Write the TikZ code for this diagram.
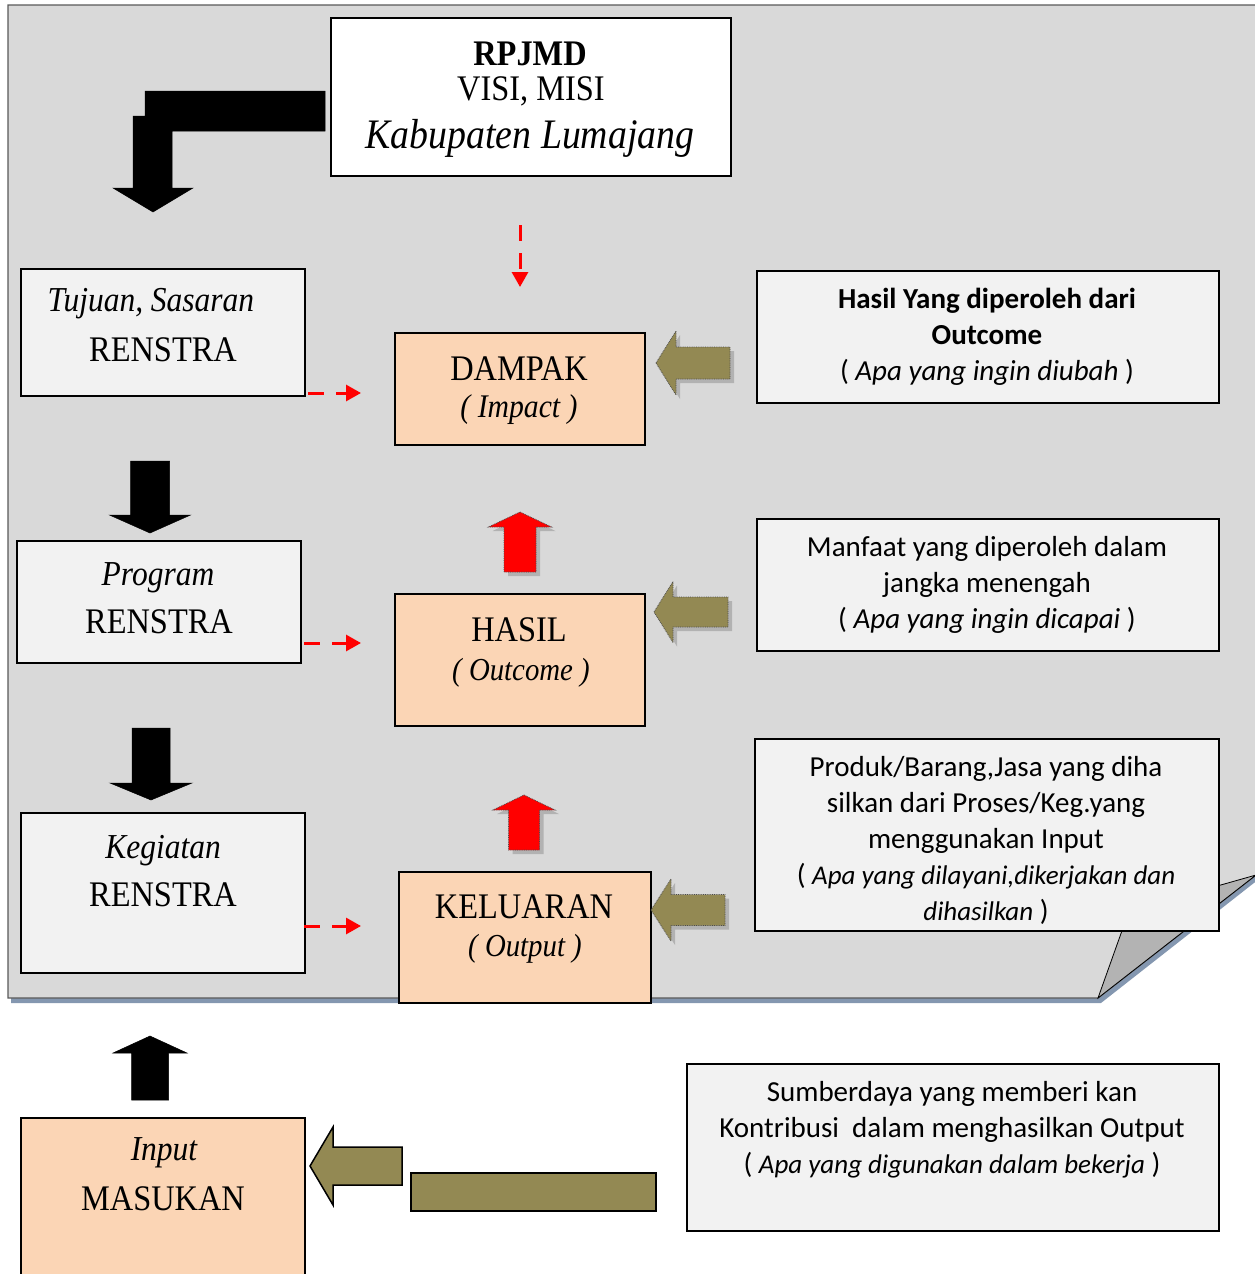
\documentclass[tikz,border=0pt]{standalone}
\usepackage{fontspec}
\setmainfont{Liberation Serif}
\newfontfamily\camfont{Liberation Serif}[FakeStretch=0.9]
\newfontfamily\calfont{Carlito}
\usetikzlibrary{arrows.meta}
\definecolor{sheet}{HTML}{D9D9D9}
\definecolor{boxgray}{HTML}{F2F2F2}
\definecolor{peach}{HTML}{FBD5B5}
\definecolor{olive}{HTML}{938953}
\definecolor{foldgray}{HTML}{B3B3B3}
\definecolor{shadowblue}{HTML}{8497B0}
% left-pointing block arrow: style, tipx, cy, headx, headhalf, shafthalf, rightx
\newcommand{\blkarrL}[7]{\path[#1] (#2,#3) -- (#4,{#3-#5}) -- (#4,{#3-#6}) -- (#7,{#3-#6}) -- (#7,{#3+#6}) -- (#4,{#3+#6}) -- (#4,{#3+#5}) -- cycle;}
% vertical block arrow: style, cx, tipy, basey, headhalf, shafthalf, endy
\newcommand{\blkarrV}[7]{\path[#1] (#2,#3) -- ({#2+#5},#4) -- ({#2+#6},#4) -- ({#2+#6},#7) -- ({#2-#6},#7) -- ({#2-#6},#4) -- ({#2-#5},#4) -- cycle;}
\tikzset{
  graybox/.style={draw=black, line width=1.6pt, fill=boxgray, inner sep=0pt, anchor=north west},
  peachbox/.style={draw=black, line width=1.6pt, fill=peach, inner sep=0pt, anchor=north west},
  big/.style={font=\camfont\fontsize{36}{40}\selectfont, anchor=base, inner sep=0pt},
  scr/.style={font=\camfont\itshape\fontsize{35}{38}\selectfont, anchor=base, inner sep=0pt},
  sub/.style={font=\camfont\itshape\fontsize{32}{34}\selectfont, anchor=base, inner sep=0pt},
  info/.style={font=\calfont\fontsize{29}{36}\selectfont, align=center, inner sep=0pt},
  reddash/.style={draw=red, line width=3pt, dash pattern=on 16pt off 12pt, -{Triangle[length=15pt,width=16pt]}},
  olivearrow/.style={fill=olive, draw=black!70, line width=0.8pt, densely dotted},
  redarrow/.style={fill=red, draw=black!70, line width=0.8pt, densely dotted},
  arrshadow/.style={fill=black!30, shift={(4,4)}},
  blackarrow/.style={fill=black, draw=black, line width=0.5pt}
}
\newcommand{\smit}[1]{{\itshape\fontsize{27}{36}\selectfont #1}}
\begin{document}
\begin{tikzpicture}[x=1pt,y=-1pt]
\useasboundingbox (0,0) rectangle (1255,1274);
% sheet with folded corner
\fill[shadowblue] (11,9) -- (1259,9) -- (1259,879) -- (1101,1003) -- (11,1003) -- cycle;
\filldraw[fill=sheet, draw=black!65, line width=1.3pt] (8,5) -- (1256,5) -- (1256,875) -- (1098,998) -- (8,998) -- cycle;
\filldraw[fill=foldgray, draw=black, line width=0.8pt] (1098,998) -- (1129,911) -- (1256,875) -- cycle;

% top box
\node[draw=black, line width=1.6pt, fill=white, inner sep=0pt, anchor=north west, minimum width=400pt, minimum height=158pt] (rpj) at (330,17) {};
\node[font=\camfont\bfseries\fontsize{36}{40}\selectfont, anchor=base, inner sep=0pt] (rpjt) at (530,65) {RPJMD};
\node[big, font=\camfont\fontsize{36}{38}\selectfont] (visi) at (531,100) {VISI, MISI};
\node[scr, font=\camfont\itshape\fontsize{42}{44}\selectfont] (kab) at (530,148) {Kabupaten Lumajang};

% L-shaped black arrow
\path[blackarrow] (145,91) -- (325,91) -- (325,131) -- (172,131) -- (172,188) -- (193,188) -- (153,212) -- (113,188) -- (133,188) -- (133,116) -- (145,116) -- cycle;

% left column
\node[graybox, minimum width=284pt, minimum height=127pt] (tuj) at (20,268) {};
\node[scr] (tujs) at (151,311) {Tujuan, Sasaran};
\node[big] (tujr) at (163,361) {RENSTRA};

\blkarrV{blackarrow}{150}{533}{515}{40.5}{19.5}{461}

\node[graybox, minimum width=284pt, minimum height=122pt] (prog) at (16,540) {};
\node[scr] (progs) at (158,585) {Program};
\node[big] (progr) at (159,633) {RENSTRA};

\blkarrV{blackarrow}{151}{800}{783}{41}{19}{728}

\node[graybox, minimum width=284pt, minimum height=160pt] (keg) at (20,812) {};
\node[scr] (kegs) at (163,858) {Kegiatan};
\node[big] (kegr) at (163,906) {RENSTRA};

\blkarrV{blackarrow}{150}{1036}{1053}{37}{18.5}{1100}

\node[peachbox, minimum width=284pt, minimum height=175pt] (mas) at (20,1117) {};
\node[scr] (mass) at (164,1160) {Input};
\node[big] (masr) at (163,1210) {MASUKAN};

% middle column
\node[peachbox, minimum width=250pt, minimum height=112pt] (dam) at (394,332) {};
\node[big] (damt) at (519,380) {DAMPAK};
\node[sub, font=\camfont\itshape\fontsize{33}{34}\selectfont] (dami) at (519,417) {( Impact )};

\node[peachbox, minimum width=250pt, minimum height=132pt] (has) at (394,593) {};
\node[big] (hast) at (519,641) {HASIL};
\node[sub] (haso) at (521,680) {( Outcome )};

\node[peachbox, minimum width=252pt, minimum height=131pt] (kel) at (398,871) {};
\node[big] (kelt) at (524,918) {KELUARAN};
\node[sub] (kelo) at (525,956) {( Output )};

% red up arrows
\blkarrV{arrshadow}{520}{512}{527}{31.5}{16}{572}
\blkarrV{redarrow}{520}{512}{527}{31.5}{16}{572}
\blkarrV{arrshadow}{524}{795}{810}{31}{15.5}{850}
\blkarrV{redarrow}{524}{795}{810}{31}{15.5}{850}

% red dashed arrows
\coordinate (d0s) at (520,225);
\coordinate (d0e) at (520,287);
\draw[reddash] (d0s) -- (d0e);
\coordinate (d1s) at (308,393);
\coordinate (d1e) at (361,393);
\draw[reddash] (d1s) -- (d1e);
\coordinate (d2s) at (304,643);
\coordinate (d2e) at (361,643);
\draw[reddash] (d2s) -- (d2e);
\coordinate (d3s) at (304,926);
\coordinate (d3e) at (361,926);
\draw[reddash] (d3s) -- (d3e);

% olive arrows
\blkarrL{arrshadow}{656}{363}{676}{32}{16}{730}
\blkarrL{olivearrow}{656}{363}{676}{32}{16}{730}
\blkarrL{arrshadow}{654}{612}{673}{30.5}{15}{728}
\blkarrL{olivearrow}{654}{612}{673}{30.5}{15}{728}
\blkarrL{arrshadow}{651}{910}{671}{31}{15.5}{725}
\blkarrL{olivearrow}{651}{910}{671}{31}{15.5}{725}
\blkarrL{fill=olive, draw=black, line width=1.5pt}{310}{1166}{333}{39}{19}{402}
\node[draw=black, line width=1.5pt, fill=olive, inner sep=0pt, anchor=north west, minimum width=245pt, minimum height=38pt] (bar) at (410,1172) {};

% right column
\node[graybox, minimum width=462pt, minimum height=132pt] (r1) at (756,270) {};
\node[info] (r1t) at (987,337) {\bfseries Hasil Yang diperoleh dari\\ \bfseries Outcome\\ ( \itshape Apa yang ingin diubah\upshape\ )};

\node[graybox, minimum width=462pt, minimum height=132pt] (r2) at (756,518) {};
\node[info] (r2t) at (987,585) {Manfaat yang diperoleh dalam\\ jangka menengah\\ ( \itshape Apa yang ingin dicapai\upshape\ )};

\node[graybox, minimum width=464pt, minimum height=192pt] (r3) at (754,738) {};
\node[info] (r3t) at (986,840) {Produk/Barang,Jasa yang diha\\ silkan dari Proses/Keg.yang\\ menggunakan Input\\ ( \smit{Apa yang dilayani,dikerjakan dan}\\ \smit{dihasilkan} )};

\node[graybox, minimum width=532pt, minimum height=167pt] (r4) at (686,1063) {};
\node[info] (r4t) at (952,1130) {Sumberdaya yang memberi kan\\ Kontribusi\ \ dalam menghasilkan Output\\ ( \smit{Apa yang digunakan dalam bekerja} )};
\end{tikzpicture}
\end{document}
